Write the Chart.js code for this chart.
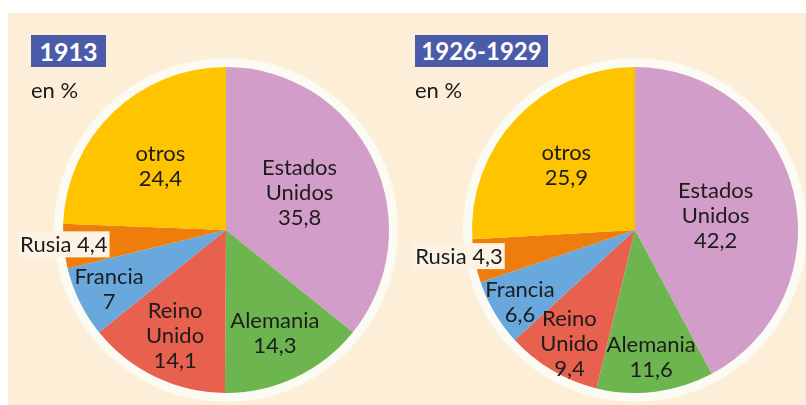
<!DOCTYPE html>
<html>
<head>
<meta charset="utf-8">
<script src="https://cdn.jsdelivr.net/npm/chart.js@4/dist/chart.umd.min.js"></script>
<style>
  html, body { margin: 0; padding: 0; background: #ffffff; }
  body { width: 806px; height: 405px; position: relative; overflow: hidden; font-family: Lato, "Noto Sans", sans-serif; }
  #panel { position: absolute; left: 8px; top: 13px; right: 0; bottom: 0; background: #fdefd7; }
  canvas { position: absolute; top: 0; }
  #c1 { left: 0; }
  #c2 { left: 403px; }
  .year { position: absolute; top: 35px; height: 32px; line-height: 32px; background: #4a5ba9; color: #fff;
          font-weight: 700; font-size: 25px; padding: 0 0; text-align: center; }
  .unit { position: absolute; top: 76px; font-size: 22px; color: #1a1a1a; }
</style>
</head>
<body>
<div id="panel"></div>
<canvas id="c1" width="403" height="405"></canvas>
<canvas id="c2" width="403" height="405"></canvas>
<div class="year" style="left:31px;width:75px;">1913</div>
<div class="unit" style="left:31px;">en %</div>
<div class="year" style="left:415px;width:133px;font-size:24px;">1926-1929</div>
<div class="unit" style="left:415px;">en %</div>
<script>
// ---- data ----
const categories = ["Estados Unidos", "Alemania", "Reino Unido", "Francia", "Rusia", "otros"];
const categoryLines = [["Estados", "Unidos"], ["Alemania"], ["Reino", "Unido"], ["Francia"], ["Rusia"], ["otros"]];
const values1913 = [35.8, 14.3, 14.1, 7, 4.4, 24.4];
const values1926 = [42.2, 11.6, 9.4, 6.6, 4.3, 25.9];
const sliceColors = ["#d29dc8", "#6db64f", "#e8614f", "#68a8dd", "#ee7d0b", "#fec400"];

// ---- plugins ----
const ringPlugin = {
  id: 'ring',
  beforeDatasetsDraw(chart, args, opts) {
    const arc = chart.getDatasetMeta(0).data[0];
    if (!arc) return;
    const ctx = chart.ctx;
    ctx.save();
    ctx.beginPath();
    ctx.arc(arc.x, arc.y, arc.outerRadius + opts.width, 0, Math.PI * 2);
    ctx.fillStyle = opts.color;
    ctx.fill();
    ctx.restore();
  }
};

const labelPlugin = {
  id: 'sliceLabels',
  afterDatasetsDraw(chart, args, opts) {
    const ctx = chart.ctx;
    const meta = chart.getDatasetMeta(0);
    const vals = chart.data.datasets[0].data;
    ctx.save();
    ctx.font = opts.font;
    ctx.fillStyle = opts.color;
    ctx.textAlign = 'center';
    ctx.textBaseline = 'middle';
    meta.data.forEach((arc, i) => {
      const mid = (arc.startAngle + arc.endAngle) / 2;
      const r = arc.outerRadius * opts.radius[i];
      const x = arc.x + Math.cos(mid) * r;
      const y = arc.y + Math.sin(mid) * r + opts.shiftY[i];
      const valText = String(vals[i]).replace('.', ',');
      if (opts.inline[i]) {
        const txt = categoryLines[i].join(' ') + ' ' + valText;
        const w = ctx.measureText(txt).width;
        ctx.fillStyle = opts.boxColor;
        ctx.fillRect(x - w / 2 - 2, y - 13, w + 4, 26);
        ctx.fillStyle = opts.color;
        ctx.fillText(txt, x, y + 1);
      } else {
        const lines = categoryLines[i].concat([valText]);
        const lh = opts.lineHeight;
        const y0 = y - (lines.length - 1) * lh / 2;
        lines.forEach((ln, k) => ctx.fillText(ln, x, y0 + k * lh));
      }
    });
    ctx.restore();
  }
};

function makePie(id, values, pad, radii, shifts) {
  return new Chart(document.getElementById(id), {
    type: 'pie',
    data: {
      labels: categories,
      datasets: [{ data: values, backgroundColor: sliceColors, borderWidth: 0 }]
    },
    options: {
      responsive: false,
      devicePixelRatio: 1,
      animation: false,
      layout: { padding: pad },
      plugins: {
        legend: { display: false },
        tooltip: { enabled: false },
        ring: { width: 9, color: '#fbfaf3' },
        sliceLabels: {
          font: '22px Lato',
          color: '#1c1c1c',
          lineHeight: 25,
          radius: radii,
          shiftY: shifts,
          inline: [false, false, false, false, true, false],
          boxColor: '#fdf3e4'
        }
      }
    },
    plugins: [ringPlugin, labelPlugin]
  });
}

makePie('c1', values1913, { left: 63, right: 14, top: 67, bottom: 12 },
        [0.5, 0.7, 0.72, 0.8, 1.0, 0.58], [-2, 0, 0, 2, -2, 5]);
makePie('c2', values1926, { left: 69, right: 8, top: 67, bottom: 12 },
        [0.51, 0.79, 0.79, 0.82, 1.1, 0.58], [6, 0, 3, 4, -8, 0]);
</script>
</body>
</html>
